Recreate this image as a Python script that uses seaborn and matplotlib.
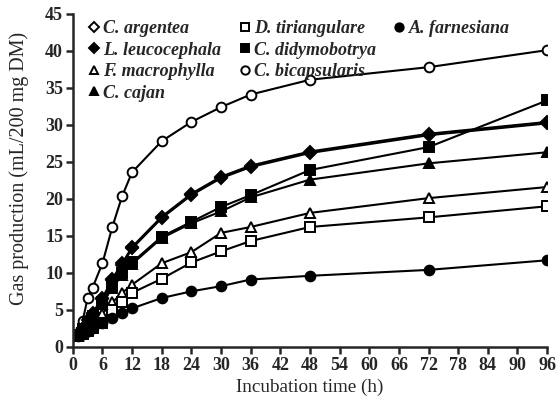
import numpy as np
import pandas as pd
import seaborn as sns
import matplotlib
matplotlib.use("Agg")
import matplotlib.pyplot as plt
from matplotlib.lines import Line2D

# incubation times (h)
times = [1, 2, 3, 4, 6, 8, 10, 12, 18, 24, 30, 36, 48, 72, 96]

c_argentea = [1.7, 2.5, 3.5, 4.5, 6.4, 9.0, 11.1, 13.3, 17.4, 20.5, 22.8, 24.3, 26.2, 28.6, 30.2]
l_leucocephala = [1.7, 2.6, 3.6, 4.6, 6.6, 9.2, 11.3, 13.5, 17.6, 20.7, 23.0, 24.5, 26.4, 28.8, 30.4]
f_macrophylla = [1.5, 2.0, 2.6, 3.2, 4.5, 6.0, 7.3, 8.4, 11.3, 12.8, 15.4, 16.2, 18.1, 20.1, 21.6]
c_cajan = [1.6, 2.3, 3.2, 4.1, 5.8, 8.0, 9.7, 11.2, 14.7, 16.7, 18.3, 20.2, 22.6, 24.8, 26.3]
d_tiriangulare = [1.4, 1.8, 2.2, 2.6, 3.2, 5.0, 6.0, 7.3, 9.2, 11.4, 12.9, 14.3, 16.2, 17.5, 19.0]
c_didymobotrya = [1.6, 2.4, 3.3, 4.2, 6.0, 8.2, 10.0, 11.4, 14.9, 16.9, 18.9, 20.5, 23.9, 27.0, 33.3]
c_bicapsularis = [1.8, 3.5, 6.6, 8.0, 11.3, 16.2, 20.4, 23.6, 27.8, 30.4, 32.4, 34.1, 36.1, 37.8, 40.1]
a_farnesiana = [1.5, 1.8, 2.2, 2.6, 3.2, 3.9, 4.6, 5.2, 6.6, 7.5, 8.2, 9.1, 9.6, 10.4, 11.7]

# name, values, marker, filled
series = [
    ("C. argentea", c_argentea, "D", False),
    ("L. leucocephala", l_leucocephala, "D", True),
    ("F. macrophylla", f_macrophylla, "^", False),
    ("C. cajan", c_cajan, "^", True),
    ("D. tiriangulare", d_tiriangulare, "s", False),
    ("C. didymobotrya", c_didymobotrya, "s", True),
    ("C. bicapsularis", c_bicapsularis, "o", False),
    ("A. farnesiana", a_farnesiana, "o", True),
]

sns.set_style("ticks")
plt.rcParams["font.family"] = ["Liberation Serif", "DejaVu Serif"]

fig = plt.figure(figsize=(5.6, 4.09), dpi=100)
ax = fig.add_axes([0.130, 0.152, 0.847, 0.814])

handles = {}
# open markers first so filled ones sit on top
for filled_pass in (False, True):
    for name, vals, mk, filled in series:
        if filled != filled_pass:
            continue
        df = pd.DataFrame({"time": times, "gas": vals})
        ms = 6 if mk == "D" else 7
        sns.lineplot(data=df, x="time", y="gas", ax=ax, color="black", lw=1.5,
                     marker=mk, markersize=ms, markeredgewidth=1.4,
                     markeredgecolor="black",
                     markerfacecolor="black" if filled else "white")
        handles[name] = Line2D([], [], ls="none", marker=mk, markersize=ms - 1,
                               markeredgewidth=1.4, color="black",
                               markerfacecolor="black" if filled else "white")

blank = Line2D([], [], ls="none")
order = [
    ("C. argentea", "L. leucocephala", "F. macrophylla", "C. cajan"),
    ("D. tiriangulare", "C. didymobotrya", "C. bicapsularis", None),
    ("A. farnesiana", None, None, None),
]
leg_h, leg_l = [], []
for col in order:
    for nm in col:
        if nm is None:
            leg_h.append(blank)
            leg_l.append("")
        else:
            leg_h.append(handles[nm])
            leg_l.append(nm)
ax.legend(leg_h, leg_l, ncol=3, loc="upper left", bbox_to_anchor=(0.0, 1.03),
          frameon=False, handlelength=0.6, handletextpad=0.2, columnspacing=1.0,
          labelspacing=0.25,
          prop={"family": "Liberation Serif", "style": "italic", "weight": "bold", "size": 13})

ax.set_xlim(0, 96)
ax.set_ylim(0, 45)
ax.set_xticks(np.arange(0, 97, 6))
ax.set_yticks(np.arange(0, 46, 5))
sns.despine(ax=ax)
for sp in ("left", "bottom"):
    ax.spines[sp].set_linewidth(1.8)
ax.tick_params(width=1.8, length=5, labelsize=13, pad=2)
for lab in ax.get_xticklabels() + ax.get_yticklabels():
    lab.set_fontweight("bold")

ax.set_xlabel("Incubation time (h)", fontsize=13.8, labelpad=4)
ax.set_ylabel("Gas production (mL/200 mg DM)", fontsize=14.5)
ax.yaxis.set_label_coords(-0.092, 0.537)

fig.savefig("out.png", dpi=100)
